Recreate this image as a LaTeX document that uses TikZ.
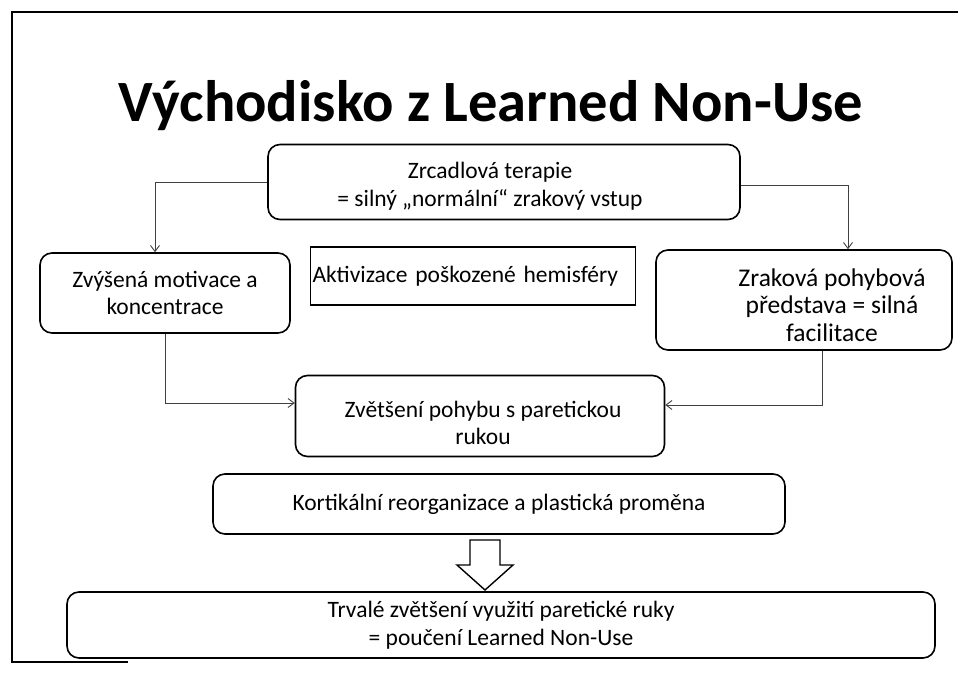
\documentclass[tikz,border=0pt]{standalone}
\usepackage{fontspec}
\setmainfont{Carlito}
\usetikzlibrary{arrows.meta}
\begin{document}
\begin{tikzpicture}[x=1pt,y=-1pt,
  box/.style={draw=black, line width=1.6pt, rounded corners=12pt, inner sep=0pt},
  sbox/.style={draw=black, line width=1.6pt, inner sep=0pt},
  txt/.style={font=\fontsize{23.5}{27.5}\selectfont, align=center, inner sep=0pt},
  conn/.style={draw=black!75, line width=0.9pt, -{Straight Barb[length=6pt,width=9pt]}},
  frame/.style={draw=black, line width=1.6pt}
]
\useasboundingbox (0,0) rectangle (958,674);
\draw[frame] (958,12) -- (12,12) -- (12,662) -- (128,662);

\node[font=\fontsize{58.5}{64}\selectfont\bfseries, anchor=base, inner sep=0pt] (title) at (491,122) {Východisko z Learned Non-Use};

% boxes
\node[box, minimum width=472pt, minimum height=75pt] (b1) at (504,182) {};
\node[txt] (b1t) at (490,186) {Zrcadlová terapie\\= silný „normální“ zrakový vstup};

\node[box, txt, minimum width=250pt, minimum height=80pt] (lb) at (165,293) {Zvýšená motivace a\\koncentrace};

\node[sbox, txt, align=left, text width=321pt, minimum height=58pt, inner xsep=2pt] (mb) at (473,276) {Aktivizace poškozené hemisféry};

\node[box, minimum width=296pt, minimum height=100pt] (rb) at (804,300) {};
\node[txt, font=\fontsize{25.5}{27.5}\selectfont] (rbt) at (832,305) {Zraková pohybová\\představa = silná\\facilitace};

\node[box, minimum width=369pt, minimum height=81pt] (zv) at (480,416) {};
\node[txt] (zvt) at (483,423) {Zvětšení pohybu s paretickou\\rukou};

\node[box, txt, minimum width=572pt, minimum height=60pt] (ko) at (499,504) {Kortikální reorganizace a plastická proměna};

\node[box, txt, minimum width=868pt, minimum height=66pt] (tr) at (501,625) {Trvalé zvětšení využití paretické ruky\\= poučení Learned Non-Use};

% connectors
\draw[conn] (b1.west) -| ([xshift=-10pt]lb.north);
\draw[conn] ([yshift=-3pt]b1.east) -| ([xshift=44pt]rb.north);
\draw[conn] (lb.south) |- ([yshift=13pt]zv.west);
\draw[conn] ([xshift=18pt]rb.south) |- ([yshift=11pt]zv.east);

% hollow block arrow
\draw[line width=1.4pt, fill=white] (470,540) -- (500,540) -- (500,565) -- (513,565) -- (485,590) -- (457,565) -- (470,565) -- cycle;
\end{tikzpicture}
\end{document}
